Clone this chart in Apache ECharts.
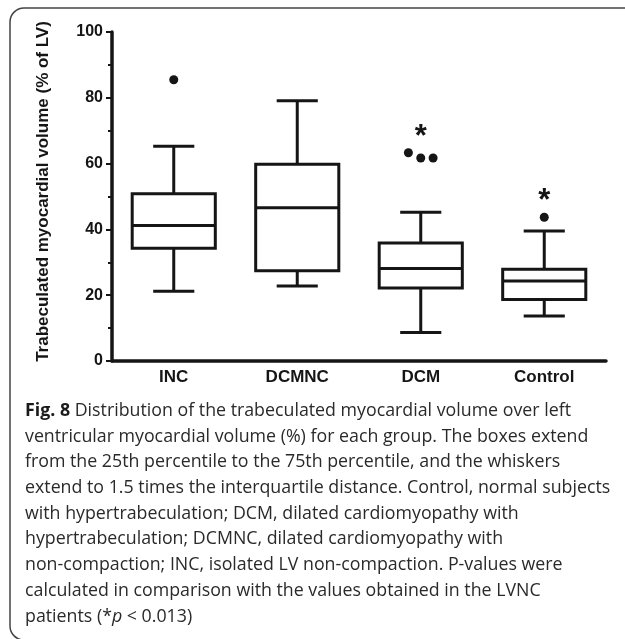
<!DOCTYPE html>
<html>
<head>
<meta charset="utf-8">
<script src="https://cdn.jsdelivr.net/npm/echarts@6/dist/echarts.min.js"></script>
<style>
html,body{margin:0;padding:0;background:#fff;}
#chart{width:625px;height:639px;}
</style>
</head>
<body>
<div id="chart"></div>
<script>
// ---- data ----
const categories = ['INC', 'DCMNC', 'DCM', 'Control'];
// [low whisker, Q1, median, Q3, high whisker]
const lowWhisker = [21.2, 22.8, 8.7, 13.7];
const q1 = [34.3, 27.4, 22.2, 18.7];
const median = [41.2, 46.6, 28.1, 24.3];
const q3 = [50.8, 59.8, 35.9, 27.9];
const highWhisker = [65.3, 79.1, 45.2, 39.5];
// outliers: [x position in category units, value]
const outliers = [[0, 85.5], [1.9, 63.3], [2.0, 61.7], [2.1, 61.7], [3, 43.7]];
// significance markers: [category index, value]
const significance = [[2, 69.1], [3, 49.7]];
const yTicks = [0, 20, 40, 60, 80, 100];

const captionLines = [
  '{b|Fig. 8} Distribution of the trabeculated myocardial volume over left',
  'ventricular myocardial volume (%) for each group. The boxes extend',
  'from the 25th percentile to the 75th percentile, and the whiskers',
  'extend to 1.5 times the interquartile distance. Control, normal subjects',
  'with hypertrabeculation; DCM, dilated cardiomyopathy with',
  'hypertrabeculation; DCMNC, dilated cardiomyopathy with',
  'non-compaction; INC, isolated LV non-compaction. P-values were',
  'calculated in comparison with the values obtained in the LVNC',
  'patients (*{i|p} < 0.013)'
];

const boxData = categories.map((c, i) => [i, lowWhisker[i], q1[i], median[i], q3[i], highWhisker[i]]);

const INK = '#151515';
const SANS = '"Liberation Sans", Arial, sans-serif';
const CAP_FS = 17.8;
const chart = echarts.init(document.getElementById('chart'), null, {renderer: 'canvas'});

function renderBox(params, api) {
  const idx = api.value(0);
  const band = api.size([1, 0])[0];
  const bw = band * 0.673 / 2;
  const cw = band * 0.333 / 2;
  const pLow = api.coord([idx, api.value(1)]);
  const pQ1 = api.coord([idx, api.value(2)]);
  const pMed = api.coord([idx, api.value(3)]);
  const pQ3 = api.coord([idx, api.value(4)]);
  const pHigh = api.coord([idx, api.value(5)]);
  const x = pMed[0];
  const ls = {stroke: INK, lineWidth: 3, lineCap: 'butt'};
  return {
    type: 'group',
    children: [
      {type: 'line', shape: {x1: x, y1: pHigh[1], x2: x, y2: pQ3[1]}, style: ls},
      {type: 'line', shape: {x1: x, y1: pQ1[1], x2: x, y2: pLow[1]}, style: ls},
      {type: 'line', shape: {x1: x - cw, y1: pHigh[1], x2: x + cw, y2: pHigh[1]}, style: ls},
      {type: 'line', shape: {x1: x - cw, y1: pLow[1], x2: x + cw, y2: pLow[1]}, style: ls},
      {type: 'rect', shape: {x: x - bw, y: pQ3[1], width: bw * 2, height: pQ1[1] - pQ3[1]},
        style: {fill: '#fff', stroke: INK, lineWidth: 3}},
      {type: 'line', shape: {x1: x - bw, y1: pMed[1], x2: x + bw, y2: pMed[1]}, style: ls}
    ]
  };
}

function renderStar(params, api) {
  const p = api.coord([api.value(0), api.value(1)]);
  return {
    type: 'text',
    x: p[0], y: p[1] + 4,
    style: {text: '*', fill: INK, font: 'bold 31px ' + SANS,
      align: 'center', verticalAlign: 'middle'}
  };
}

const option = {
  animation: false,
  backgroundColor: '#fff',
  grid: {left: 112, right: 19, top: 32, bottom: 278, containLabel: false},
  xAxis: [{
    type: 'category',
    data: categories,
    boundaryGap: true,
    axisLine: {lineStyle: {color: INK, width: 3.5}},
    axisTick: {alignWithLabel: true, length: 5, lineStyle: {color: INK, width: 2}},
    axisLabel: {color: INK, fontSize: 17, fontWeight: 'bold', fontFamily: SANS, margin: 8},
    splitLine: {show: false}
  }, {
    type: 'value', min: -0.5, max: 3.5, show: false
  }],
  yAxis: {
    type: 'value',
    min: 0, max: 100, interval: 20,
    name: 'Trabeculated myocardial volume (% of LV)',
    nameLocation: 'middle',
    nameGap: 60,
    nameTextStyle: {color: INK, fontSize: 17, fontWeight: 'bold', fontFamily: SANS, padding: [0, 0, 0, 10]},
    axisLine: {show: true, onZero: false, lineStyle: {color: INK, width: 3.5}},
    axisTick: {show: true, length: 6, lineStyle: {color: INK, width: 2}},
    minorTick: {show: true, splitNumber: 2, length: 4, lineStyle: {color: INK, width: 2}},
    axisLabel: {color: INK, fontSize: 16, fontWeight: 'bold', fontFamily: SANS, margin: 9,
      formatter: v => yTicks.includes(v) ? String(v) : ''},
    splitLine: {show: false}
  },
  series: [{
    type: 'custom',
    xAxisIndex: 0,
    renderItem: renderBox,
    encode: {x: 0, y: [1, 2, 3, 4, 5]},
    data: boxData,
    z: 3
  }, {
    type: 'scatter',
    xAxisIndex: 1,
    symbol: 'circle',
    symbolSize: 9,
    itemStyle: {color: INK, opacity: 1},
    data: outliers,
    z: 4
  }, {
    type: 'custom',
    xAxisIndex: 0,
    renderItem: renderStar,
    encode: {x: 0, y: 1},
    data: significance,
    z: 4
  }],
  graphic: [{
    type: 'rect',
    shape: {x: 10, y: 8, width: 720, height: 632, r: 14},
    style: {fill: 'none', stroke: '#444', lineWidth: 1.5},
    silent: true
  }, {
    type: 'text',
    left: 25, top: 398,
    style: {
      text: captionLines.join('\n'),
      fill: '#2a2a2a',
      font: CAP_FS + 'px "Open Sans", "Noto Sans", sans-serif',
      lineHeight: 25.7,
      rich: {
        b: {fontWeight: 'bold', fontSize: CAP_FS, fontFamily: '"Open Sans", sans-serif', fill: '#1a1a1a', lineHeight: 25.7},
        i: {fontStyle: 'italic', fontSize: CAP_FS, fontFamily: '"Open Sans", sans-serif', fill: '#2a2a2a', lineHeight: 25.7}
      }
    }
  }]
};
chart.setOption(option);
</script>
</body>
</html>
